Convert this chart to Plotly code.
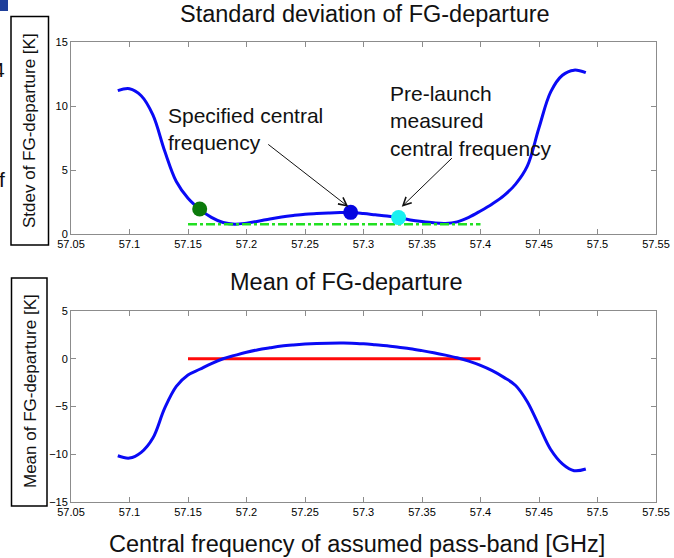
import plotly.graph_objects as go

# ---------------- data ----------------
std_x = [57.09, 57.10, 57.11, 57.12, 57.13, 57.14, 57.15, 57.16, 57.17, 57.18, 57.19,
         57.20, 57.21, 57.22, 57.23, 57.24, 57.25, 57.26, 57.27, 57.28, 57.29, 57.30,
         57.31, 57.32, 57.33, 57.34, 57.35, 57.36, 57.37, 57.38, 57.39, 57.40, 57.41,
         57.42, 57.43, 57.44, 57.45, 57.46, 57.47, 57.48, 57.49]
std_y = [11.2, 11.35, 10.8, 9.3, 6.5, 4.1, 2.8, 1.95, 1.3, 0.9, 0.77,
         0.85, 1.0, 1.18, 1.33, 1.45, 1.55, 1.6, 1.64, 1.67, 1.68, 1.6,
         1.5, 1.4, 1.28, 1.1, 0.97, 0.87, 0.83, 0.95, 1.3, 1.8, 2.35,
         3.0, 3.9, 5.3, 8.3, 11.1, 12.4, 12.8, 12.6]

mean_x = [57.09, 57.10, 57.11, 57.12, 57.13, 57.14, 57.15, 57.16, 57.17, 57.18, 57.19,
          57.20, 57.21, 57.22, 57.23, 57.24, 57.25, 57.26, 57.27, 57.28, 57.29, 57.30,
          57.31, 57.32, 57.33, 57.34, 57.35, 57.36, 57.37, 57.38, 57.39, 57.40, 57.41,
          57.42, 57.43, 57.44, 57.45, 57.46, 57.47, 57.48, 57.49]
mean_y = [-10.16, -10.4, -9.8, -8.3, -5.2, -2.9, -1.7, -1.1, -0.5, 0.0, 0.35,
          0.68, 0.95, 1.15, 1.33, 1.45, 1.54, 1.6, 1.63, 1.64, 1.63, 1.56,
          1.46, 1.35, 1.2, 1.05, 0.85, 0.63, 0.38, 0.1, -0.25, -0.7, -1.25,
          -1.95, -2.8, -4.5, -7.0, -9.5, -11.0, -11.72, -11.55]

band_x = [57.15, 57.40]          # pass-band extent
std_ref_y = [0.76, 0.76]         # green dash-dot reference level
mean_ref_y = [0.0, 0.0]          # red zero line

pt_specified = (57.289, 1.69)
pt_prelaunch = (57.33, 1.28)
pt_green = (57.16, 1.95)

x_ticks = [57.05, 57.1, 57.15, 57.2, 57.25, 57.3, 57.35, 57.4, 57.45, 57.5, 57.55]
x_ticktext = ["57.05", "57.1", "57.15", "57.2", "57.25", "57.3", "57.35", "57.4",
              "57.45", "57.5", "57.55"]
std_ticks = [0, 5, 10, 15]
mean_ticks = [-15, -10, -5, 0, 5]

# ---------------- figure ----------------
W, H = 674, 558
def px(x):
    return x / W
def py(y):
    return 1 - y / H

FONT = "Liberation Sans, Arial, sans-serif"
BLUE = "#0a0af5"

fig = go.Figure()

fig.add_trace(go.Scatter(x=std_x, y=std_y, mode="lines",
                         line=dict(color=BLUE, width=3, shape="spline", smoothing=1.0),
                         xaxis="x", yaxis="y", showlegend=False))
fig.add_trace(go.Scatter(x=band_x, y=std_ref_y, mode="lines",
                         line=dict(color="#22e022", width=2.5, dash="dashdot"),
                         xaxis="x", yaxis="y", showlegend=False))
fig.add_trace(go.Scatter(x=[pt_green[0]], y=[pt_green[1]], mode="markers",
                         marker=dict(color="#0b7a0b", size=15), xaxis="x", yaxis="y", showlegend=False))
fig.add_trace(go.Scatter(x=[pt_specified[0]], y=[pt_specified[1]], mode="markers",
                         marker=dict(color="#0505e0", size=15), xaxis="x", yaxis="y", showlegend=False))
fig.add_trace(go.Scatter(x=[pt_prelaunch[0]], y=[pt_prelaunch[1]], mode="markers",
                         marker=dict(color="#18f0f0", size=15), xaxis="x", yaxis="y", showlegend=False))

fig.add_trace(go.Scatter(x=band_x, y=mean_ref_y, mode="lines", line=dict(color="#ff0a0a", width=3),
                         xaxis="x2", yaxis="y2", showlegend=False))
fig.add_trace(go.Scatter(x=mean_x, y=mean_y, mode="lines",
                         line=dict(color=BLUE, width=3, shape="spline", smoothing=1.0),
                         xaxis="x2", yaxis="y2", showlegend=False))

axis_common = dict(showline=True, linecolor="#8c8c8c", linewidth=1, mirror="ticks",
                   ticks="inside", ticklen=5, tickcolor="#8c8c8c", showgrid=False, zeroline=False,
                   automargin=False,
                   tickfont=dict(family=FONT, size=11, color="#000"))

fig.update_layout(
    width=W, height=H, margin=dict(l=0, r=0, t=0, b=0, pad=0, autoexpand=False),
    paper_bgcolor="white", plot_bgcolor="white",
    xaxis=dict(domain=[px(71), px(656)], range=[57.05, 57.55], tickvals=x_ticks, ticktext=x_ticktext,
               anchor="y", **axis_common),
    yaxis=dict(domain=[py(234), py(42)], range=[0, 15], tickvals=std_ticks, anchor="x", **axis_common),
    xaxis2=dict(domain=[px(71), px(656)], range=[57.05, 57.55], tickvals=x_ticks, ticktext=x_ticktext,
                anchor="y2", **axis_common),
    yaxis2=dict(domain=[py(502), py(311)], range=[-15, 5], tickvals=mean_ticks, anchor="x2", **axis_common),
)

def txt(text, x, y, size, **kw):
    d = dict(text=text, x=px(x), y=py(y), xref="paper", yref="paper", showarrow=False,
             xanchor="center", yanchor="middle", font=dict(family=FONT, size=size, color="#111"))
    d.update(kw)
    return d

annotations = [
    txt("Standard deviation of FG-departure", 365, 14, 23.5),
    txt("Mean of FG-departure", 346, 282, 23.5),
    txt("Central frequency of assumed pass-band [GHz]", 357, 544, 23.5),
    txt("Stdev of FG-departure [K]", 30, 131, 17, textangle=-90),
    txt("Mean of FG-departure [K]", 30, 391, 17, textangle=-90),
    txt("Specified central<br>frequency", 166, 129, 21, xanchor="left", align="left"),
    txt("Pre-launch<br>measured<br>central frequency", 388, 121, 21, xanchor="left", align="left"),
    # arrows
    dict(text="", x=57.287, y=2.13, xref="x", yref="y", ax=57.2173, ay=7.09, axref="x", ayref="y",
         showarrow=True, arrowhead=5, arrowsize=1.6, arrowwidth=1, arrowcolor="#111"),
    dict(text="", x=57.3327, y=2.13, xref="x", yref="y", ax=57.3768, ay=6.04, axref="x", ayref="y",
         showarrow=True, arrowhead=5, arrowsize=1.6, arrowwidth=1, arrowcolor="#111"),
    # cropped slide fragments on the left edge
    txt("4", 7, 70, 21, xanchor="right"),
    txt("f", 7, 180, 21, xanchor="right"),
]
fig.update_layout(annotations=annotations)

shapes = [
    dict(type="rect", xref="paper", yref="paper", x0=px(11), x1=px(48.5), y0=py(245), y1=py(16.5),
         line=dict(color="black", width=1.5)),
    dict(type="rect", xref="paper", yref="paper", x0=px(11.5), x1=px(47), y0=py(506), y1=py(278),
         line=dict(color="black", width=1.5)),
    dict(type="rect", xref="paper", yref="paper", x0=0, x1=px(8), y0=py(11), y1=1,
         line=dict(width=0), fillcolor="#1f3f9a"),
]
fig.update_layout(shapes=shapes)

fig.write_html("out.html")
